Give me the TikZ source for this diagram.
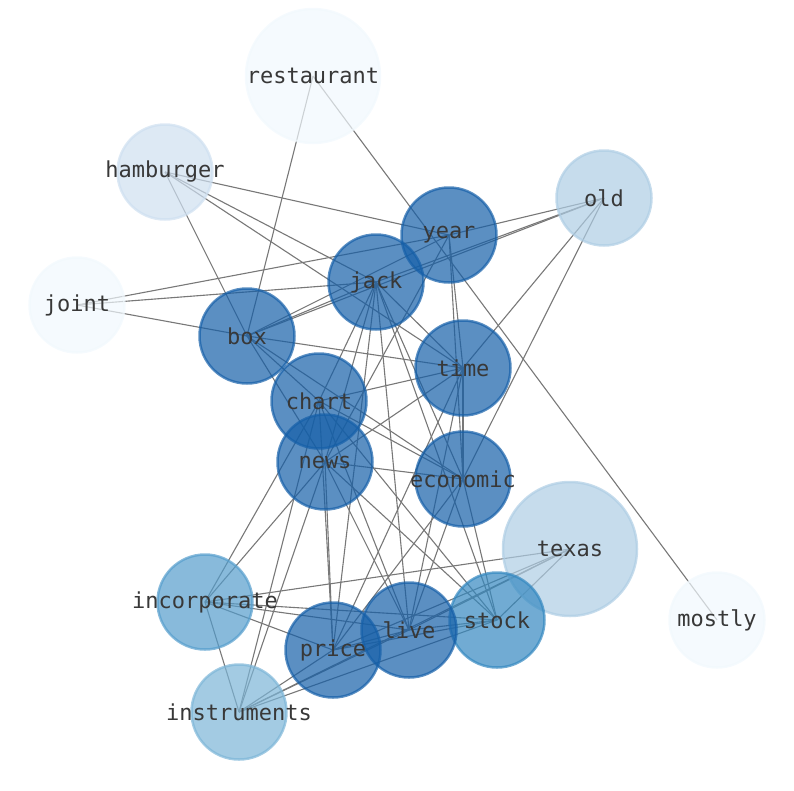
\documentclass[tikz,border=0pt]{standalone}
\usepackage{fontspec}
\usepackage{tikz}
\usetikzlibrary{backgrounds}
\newfontfamily\monofont{DejaVu Sans Mono}

\definecolor{deg1}{RGB}{241,248,253}
\definecolor{deg2}{RGB}{206,223,240}
\definecolor{deg3}{RGB}{174,205,228}
\definecolor{deg4}{RGB}{124,181,215}
\definecolor{deg5}{RGB}{85,157,204}
\definecolor{deg6}{RGB}{52,136,192}
\definecolor{deg7}{RGB}{21,95,168}
\definecolor{edgegray}{RGB}{120,120,120}

\begin{document}
\begin{tikzpicture}[x=1pt,y=-1pt,
  word node/.style={circle,minimum size=95pt,inner sep=0pt,line width=2.5pt,
        draw=#1,fill=#1,draw opacity=0.7,fill opacity=0.7,text opacity=1},
  big node/.style={word node=#1,minimum size=134pt},
  word label/.style={font=\monofont\fontsize{22}{22}\selectfont,text=black!78,inner sep=0pt},
  edge line/.style={draw=edgegray,line width=1.1pt}]
  \useasboundingbox (0,0) rectangle (794,790);

  \node[big node=deg1]  (restaurant)  at (313,76)  {};
  \node[word node=deg2] (hamburger)   at (165,172) {};
  \node[word node=deg3] (old)         at (604,198) {};
  \node[word node=deg7] (year)        at (449,235) {};
  \node[word node=deg7] (jack)        at (376,282) {};
  \node[word node=deg1] (joint)       at (77,305)  {};
  \node[word node=deg7] (box)         at (247,336) {};
  \node[word node=deg7] (time)        at (463,368) {};
  \node[word node=deg7] (chart)       at (319,401) {};
  \node[word node=deg7] (news)        at (325,462) {};
  \node[word node=deg7] (economic)    at (463,479) {};
  \node[big node=deg3]  (texas)       at (570,549) {};
  \node[word node=deg5] (incorporate) at (205,602) {};
  \node[word node=deg1] (mostly)      at (717,620) {};
  \node[word node=deg6] (stock)       at (497,620) {};
  \node[word node=deg7] (live)        at (409,630) {};
  \node[word node=deg7] (price)       at (333,650) {};
  \node[word node=deg4] (instruments) at (239,712) {};

  % labels
  \foreach \w in {restaurant,hamburger,old,year,jack,joint,box,time,chart,news,
                  economic,texas,incorporate,mostly,stock,live,price,instruments}
    \node[word label] at (\w.center) {\w};

  \begin{pgfonlayer}{background}
  \path[edge line]
    (restaurant.center) edge (box.center)
    (restaurant.center) edge (mostly.center)
    (hamburger.center) edge (year.center)
    (hamburger.center) edge (jack.center)
    (hamburger.center) edge (time.center)
    (hamburger.center) edge (box.center)
    (joint.center) edge (year.center)
    (joint.center) edge (jack.center)
    (joint.center) edge (box.center)
    (old.center) edge (year.center)
    (old.center) edge (jack.center)
    (old.center) edge (box.center)
    (old.center) edge (time.center)
    (old.center) edge (economic.center)
    (year.center) edge (box.center)
    (year.center) edge (time.center)
    (year.center) edge (economic.center)
    (year.center) edge (news.center)
    (jack.center) edge (box.center)
    (jack.center) edge (time.center)
    (jack.center) edge (chart.center)
    (jack.center) edge (news.center)
    (jack.center) edge (economic.center)
    (jack.center) edge (price.center)
    (jack.center) edge (live.center)
    (jack.center) edge (stock.center)
    (box.center) edge (time.center)
    (box.center) edge (chart.center)
    (box.center) edge (news.center)
    (box.center) edge (economic.center)
    (time.center) edge (chart.center)
    (time.center) edge (news.center)
    (time.center) edge (economic.center)
    (time.center) edge (price.center)
    (time.center) edge (live.center)
    (chart.center) edge (economic.center)
    (chart.center) edge (incorporate.center)
    (chart.center) edge (instruments.center)
    (chart.center) edge (price.center)
    (chart.center) edge (live.center)
    (chart.center) edge (stock.center)
    (news.center) edge (economic.center)
    (news.center) edge (incorporate.center)
    (news.center) edge (instruments.center)
    (news.center) edge (price.center)
    (news.center) edge (live.center)
    (news.center) edge (stock.center)
    (economic.center) edge (price.center)
    (economic.center) edge (live.center)
    (economic.center) edge (stock.center)
    (texas.center) edge (incorporate.center)
    (texas.center) edge (price.center)
    (texas.center) edge (live.center)
    (texas.center) edge (stock.center)
    (texas.center) edge (instruments.center)
    (incorporate.center) edge (price.center)
    (incorporate.center) edge (live.center)
    (incorporate.center) edge (stock.center)
    (incorporate.center) edge (instruments.center)
    (instruments.center) edge (price.center)
    (instruments.center) edge (live.center)
    (instruments.center) edge (stock.center)
    (price.center) edge (live.center)
    (price.center) edge (stock.center)
    (live.center) edge (stock.center);
  \end{pgfonlayer}
\end{tikzpicture}
\end{document}
